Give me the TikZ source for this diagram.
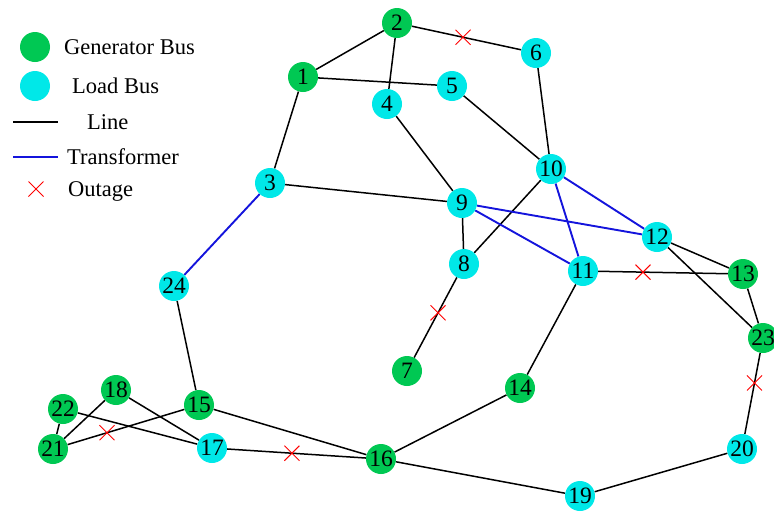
\documentclass[tikz,border=0pt]{standalone}
\usepackage{fontspec}
\setmainfont{Liberation Serif}
\usetikzlibrary{calc,backgrounds,shapes.misc}
\definecolor{gbus}{RGB}{0,200,83}
\definecolor{lbus}{RGB}{0,232,232}
\definecolor{trafo}{RGB}{20,20,220}
\tikzset{
  bus/.style={circle,minimum size=30pt,inner sep=0pt,font=\fontsize{23.5}{23.5}\selectfont},
  gen/.style={bus,fill=gbus},
  load/.style={bus,fill=lbus},
  line/.style={draw=black,line width=1.5pt},
  trans/.style={draw=trafo,line width=1.9pt},
  outage/.style={cross out,draw=red,line width=1pt,minimum size=14pt,inner sep=0pt},
  legtext/.style={anchor=west,inner sep=0pt,font=\fontsize{22.5}{22.5}\selectfont}
}
\begin{document}
\begin{tikzpicture}[x=1pt,y=-1pt]
\useasboundingbox (0,0) rectangle (774,512);
% buses
\node[gen]  (b1)  at (303,77)  {1};
\node[gen]  (b2)  at (397,23)  {2};
\node[load] (b3)  at (270,183) {3};
\node[load] (b4)  at (387,104) {4};
\node[load] (b5)  at (452,86)  {5};
\node[load] (b6)  at (536,53)  {6};
\node[gen]  (b7)  at (407,371) {7};
\node[load] (b8)  at (464,264) {8};
\node[load] (b9)  at (462,203) {9};
\node[load] (b10) at (551,169) {10};
\node[load] (b11) at (583,271) {11};
\node[load] (b12) at (657,237) {12};
\node[gen]  (b13) at (743,274) {13};
\node[gen]  (b14) at (520,388) {14};
\node[gen]  (b15) at (199,405) {15};
\node[gen]  (b16) at (381,459) {16};
\node[load] (b17) at (212,448) {17};
\node[gen]  (b18) at (116,390) {18};
\node[load] (b19) at (580,496) {19};
\node[load] (b20) at (742,449) {20};
\node[gen]  (b21) at (53,449)  {21};
\node[gen]  (b22) at (63,409)  {22};
\node[gen]  (b23) at (763,338) {23};
\node[load] (b24) at (174,286) {24};
% connectors
\begin{scope}[on background layer]
\foreach \a/\b in {b1/b2,b2/b4,b2/b6,b1/b5,b1/b3,b4/b9,b5/b10,b6/b10,b3/b9,b9/b8,b10/b8,
  b12/b13,b12/b23,b11/b13,b13/b23,b11/b14,b8/b7,b14/b16,b24/b15,b15/b16,b15/b21,
  b18/b17,b18/b21,b22/b21,b22/b17,b17/b16,b16/b19,b19/b20,b20/b23}
  \path[line] (\a) -- (\b);
\foreach \a/\b in {b3/b24,b9/b11,b9/b12,b10/b11,b10/b12}
  \path[trans] (\a) -- (\b);
\end{scope}
% outages
\node[outage] (o1) at ($(b2.center)!0.475!(b6.center)$) {};
\node[outage] (o2) at ($(b8.center)!0.456!(b7.center)$) {};
\node[outage] (o3) at ($(b11.center)!0.375!(b13.center)$) {};
\node[outage] (o4) at ($(b23.center)!0.405!(b20.center)$) {};
\node[outage] (o5) at ($(b17.center)!0.473!(b16.center)$) {};
\node[outage] (o6) at ($(b21.center)!0.37!(b15.center)$) {};
% legend
\node[gen] (lg) at (35,47) {};
\node[legtext] (lgt) at (64,47) {Generator Bus};
\node[load] (ll) at (35,86) {};
\node[legtext] (llt) at (72,86) {Load Bus};
\coordinate (la) at (13,122);
\coordinate (lb) at (58,122);
\draw[line] (la) -- (lb);
\node[legtext] (lnt) at (87,122) {Line};
\coordinate (ta) at (13,157);
\coordinate (tb) at (58,157);
\draw[trans] (ta) -- (tb);
\node[legtext] (ltt) at (67,157) {Transformer};
\node[outage] (lo) at (36,189) {};
\node[legtext] (lot) at (68,191) {Outage};
\end{tikzpicture}
\end{document}
